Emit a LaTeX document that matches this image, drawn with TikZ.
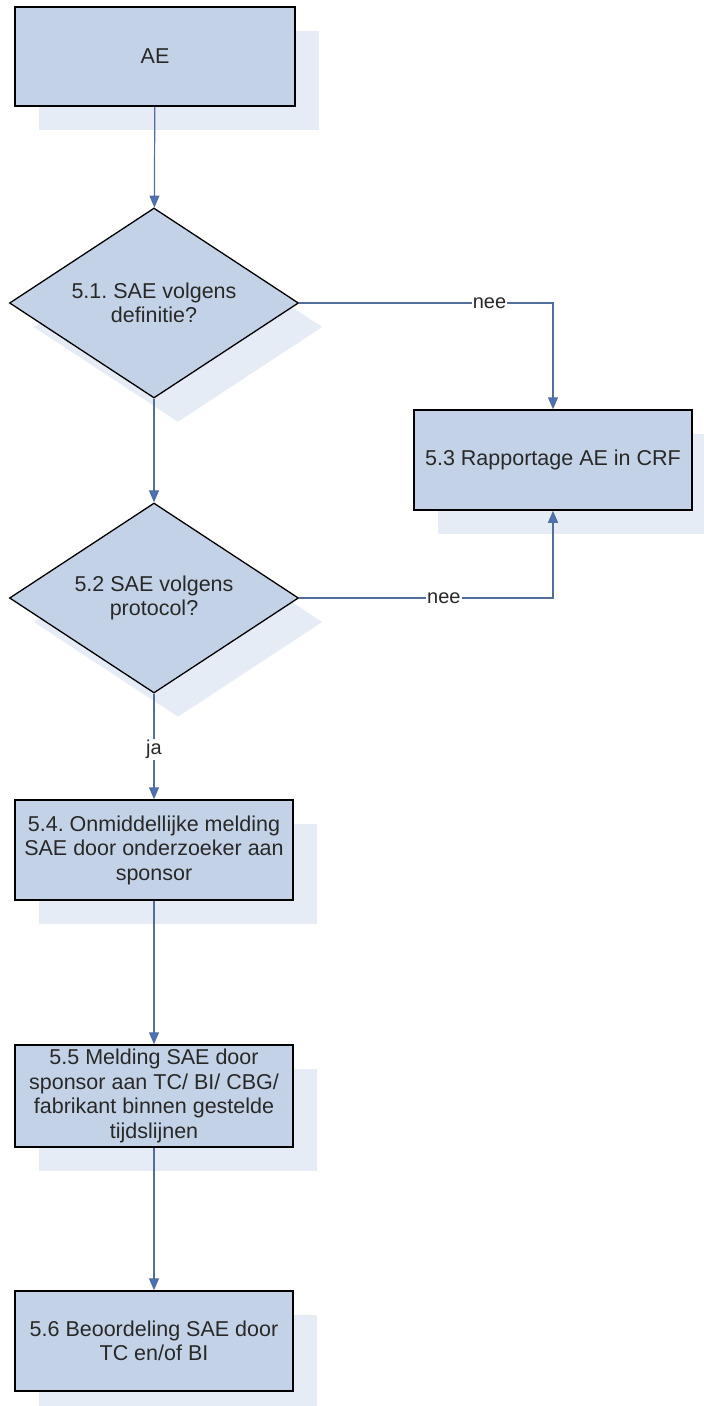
\documentclass[tikz,border=0pt]{standalone}
\usepackage{fontspec}
\setmainfont{Liberation Sans}
\usetikzlibrary{shapes.geometric,shadows,arrows.meta}
\frenchspacing
\definecolor{boxfill}{RGB}{196,210,232}
\definecolor{shade}{RGB}{230,236,246}
\definecolor{flow}{RGB}{84,110,156}
\definecolor{tipblue}{RGB}{74,114,184}
\definecolor{ink}{RGB}{40,40,40}
\tikzset{
	stepbox/.style={draw=black, line width=1.5pt, fill=boxfill, text=ink,
		minimum width=278pt, minimum height=100pt, align=center,
		font=\fontsize{21.5}{24.5}\selectfont,
		drop shadow={shadow xshift=24pt, shadow yshift=-24pt, fill=shade, opacity=1}},
	choice/.style={diamond, aspect=1.52, draw=black, line width=1.3pt, fill=boxfill, text=ink,
		minimum width=289pt, minimum height=190pt, inner sep=0pt, align=center,
		font=\fontsize{21.5}{24.5}\selectfont,
		drop shadow={shadow xshift=24pt, shadow yshift=-24pt, fill=shade, opacity=1}},
	flowline/.style={draw=flow, line width=1.2pt, -{Triangle[width=10pt,length=12pt,fill=tipblue]}},
	answer/.style={fill=white, inner sep=1pt, text=ink, font=\fontsize{20}{22}\selectfont}
}
\begin{document}
\begin{tikzpicture}[x=1pt, y=-1pt]
		\useasboundingbox (0,0) rectangle (704,1406);
		\node[stepbox, minimum width=280pt, minimum height=99pt] (AE) at (155,56.5) {AE};
		\node[choice] (D1) at (154,303) {5.1. SAE volgens\\definitie?};
		\node[stepbox] (R) at (553,460) {5.3 Rapportage AE in CRF};
		\node[choice] (D2) at (154,598) {5.2 SAE volgens\\protocol?};
		\node[stepbox] (M4) at (154,850) {5.4. Onmiddellijke melding\\SAE door onderzoeker aan\\sponsor};
		\node[stepbox, minimum height=102pt] (M5) at (154,1096) {5.5 Melding SAE door\\sponsor aan TC/ BI/ CBG/\\fabrikant binnen gestelde\\tijdslijnen};
		\node[stepbox] (B6) at (154,1341) {5.6 Beoordeling SAE door\\TC en/of BI};
		
		\path [flowline] (AE) edge (D1);
		\path [flowline] (D1) edge (D2);
		\path [flowline] (D2) edge node[answer, pos=0.53] {ja} (M4);
		\path [flowline] (M4) edge (M5);
		\path [flowline] (M5) edge (B6);
		\draw [flowline] (D1.east) -| node[answer, pos=0.375] {nee} (R.north);
		\draw [flowline] (D2.east) -| node[answer, pos=0.285] {nee} (R.south);
		\end{tikzpicture}
\end{document}
